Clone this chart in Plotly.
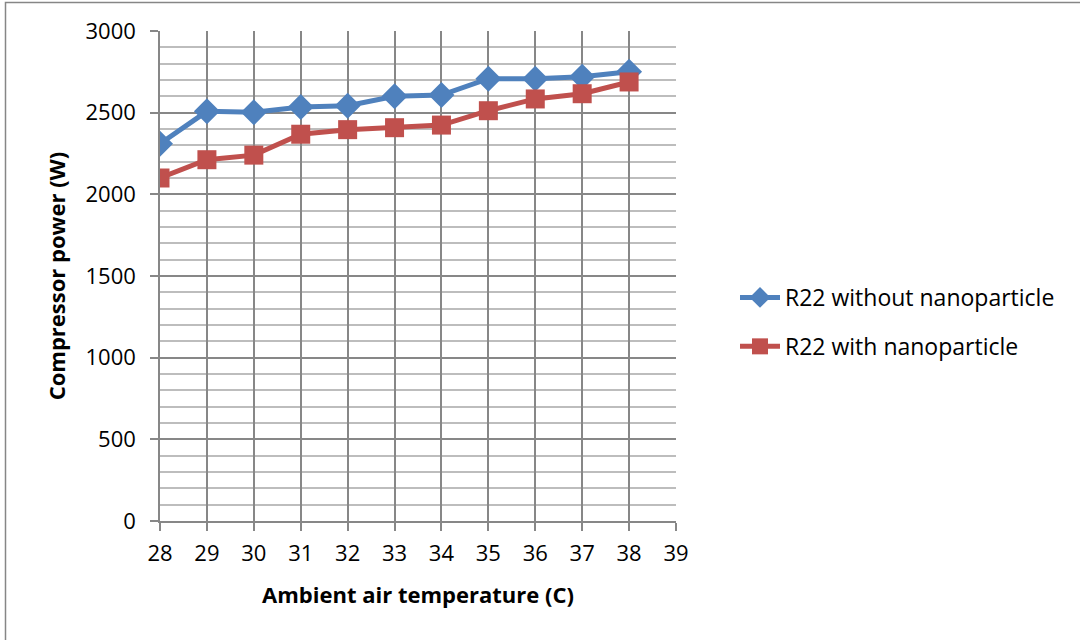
import plotly.graph_objects as go

temperature = [28, 29, 30, 31, 32, 33, 34, 35, 36, 37, 38]
without_nano = [2310, 2508, 2502, 2535, 2542, 2600, 2608, 2708, 2708, 2720, 2750]
with_nano = [2100, 2212, 2240, 2368, 2396, 2408, 2424, 2512, 2584, 2616, 2688]
x_ticks = list(range(28, 40))
y_ticks = [0, 500, 1000, 1500, 2000, 2500, 3000]

W, H = 1080, 640
L, R, T, B = 160, 404, 31, 119
pw, ph = W - L - R, H - T - B

font_family = "Open Sans, Noto Sans, sans-serif"

fig = go.Figure()
fig.add_trace(go.Scatter(
    x=temperature, y=without_nano, mode="lines+markers",
    name="R22 without nanoparticle", legendgroup="a",
    line=dict(color="#4F81BD", width=5),
    marker=dict(symbol="diamond", size=20, color="#4F81BD"),
))
fig.add_trace(go.Scatter(
    x=temperature, y=with_nano, mode="lines+markers",
    name="R22 with nanoparticle", legendgroup="b",
    line=dict(color="#C0504D", width=5),
    marker=dict(symbol="square", size=19, color="#C0504D"),
))

fig.update_layout(
    width=W, height=H,
    margin=dict(l=L, r=R, t=T, b=B, autoexpand=False),
    paper_bgcolor="white", plot_bgcolor="white",
    font=dict(family=font_family, size=22, color="black"),
    showlegend=True,
    legend=dict(x=(735 - L) / pw, y=(H - B - 322) / ph, xanchor="left", yanchor="middle",
                font=dict(size=23), itemwidth=40, traceorder="grouped", tracegroupgap=16,
                bgcolor="rgba(0,0,0,0)"),
    shapes=[dict(type="rect", xref="paper", yref="paper",
                 x0=(5.5 - L) / pw, x1=(W + 10 - L) / pw,
                 y0=(-10 - B) / ph, y1=(H - 2.5 - B) / ph,
                 line=dict(color="#868686", width=1.5), layer="below")],
)

fig.update_xaxes(
    range=[28, 39], tickvals=x_ticks, ticktext=[str(t) for t in x_ticks],
    showgrid=True, gridcolor="#878787", gridwidth=1.5,
    showline=True, linecolor="#878787", linewidth=1.5,
    ticks="outside", ticklen=8, tickcolor="#878787", tickwidth=1.5,
    ticklabelstandoff=4,
    zeroline=False,
    title=dict(text="<b>Ambient air temperature (C)</b>", font=dict(size=22), standoff=21),
    tickfont=dict(size=22),
)
fig.update_yaxes(
    range=[0, 3000], tickvals=y_ticks,
    showgrid=True, gridcolor="#878787", gridwidth=1.5,
    minor=dict(dtick=100, showgrid=True, gridcolor="#BDBDBD", gridwidth=1.5),
    showline=True, linecolor="#878787", linewidth=1.5,
    ticks="outside", ticklen=8, tickcolor="#878787", tickwidth=1.5,
    ticklabelstandoff=10,
    zeroline=False,
    title=dict(text="<b>Compressor power (W)</b>", font=dict(size=22), standoff=14),
    tickfont=dict(size=22),
)

fig.write_html("out.html")
